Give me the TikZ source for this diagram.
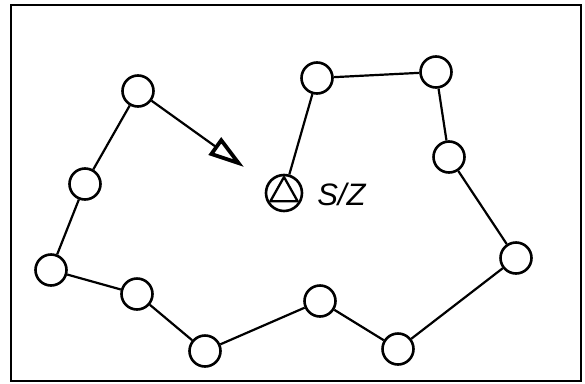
\documentclass[tikz,border=0pt]{standalone}
\usepackage{fontspec}
\setsansfont{Liberation Sans}
\usetikzlibrary{arrows.meta,calc}
\begin{document}
\begin{tikzpicture}[x=1pt,y=-1pt,
  line width=2.6pt,
  site/.style={circle,draw,fill=white,minimum size=31pt,inner sep=0pt},
  hub/.style={circle,draw,fill=white,minimum size=36pt,inner sep=0pt},
  link/.style={line width=2.2pt}]
\useasboundingbox (0,0) rectangle (585,383);
\draw[line width=2.8pt] (11,5) rectangle (581,381);
% chain of sites
\node[site] (n1) at (138,91) {};
\node[site] (n2) at (85,184) {};
\node[site] (n3) at (51,270) {};
\node[site] (n4) at (137,294) {};
\node[site] (n5) at (205,351) {};
\node[site] (n6) at (320,301) {};
\node[site] (n7) at (398,349) {};
\node[site] (n8) at (516,258) {};
\node[site] (n9) at (449,157) {};
\node[site] (n10) at (436,72) {};
\node[site] (n11) at (317,78) {};
\node[hub] (sz) at (284,193) {};
% triangle inscribed in the hub
\draw[line width=2.3pt,line join=round] ($(sz)+(0,-16)$) -- ($(sz)+(13.6,8.2)$) -- ($(sz)+(-13.6,8.2)$) -- cycle;
\node[font=\sffamily\itshape\fontsize{31}{31}\selectfont,anchor=west,inner sep=0pt] (lbl) at (316,194) {S/Z};
% bonds
\draw[link] (n1) -- (n2) (n2) -- (n3) (n3) -- (n4) (n4) -- (n5) (n5) -- (n6)
  (n6) -- (n7) (n7) -- (n8) (n8) -- (n9) (n9) -- (n10) (n10) -- (n11) (n11) -- (sz);
% pointer
\coordinate (tip) at (244,167);
\draw[link,-{Triangle[open,length=36pt,width=21pt,line width=3.8pt]}] (n1) -- (tip);
\end{tikzpicture}
\end{document}
